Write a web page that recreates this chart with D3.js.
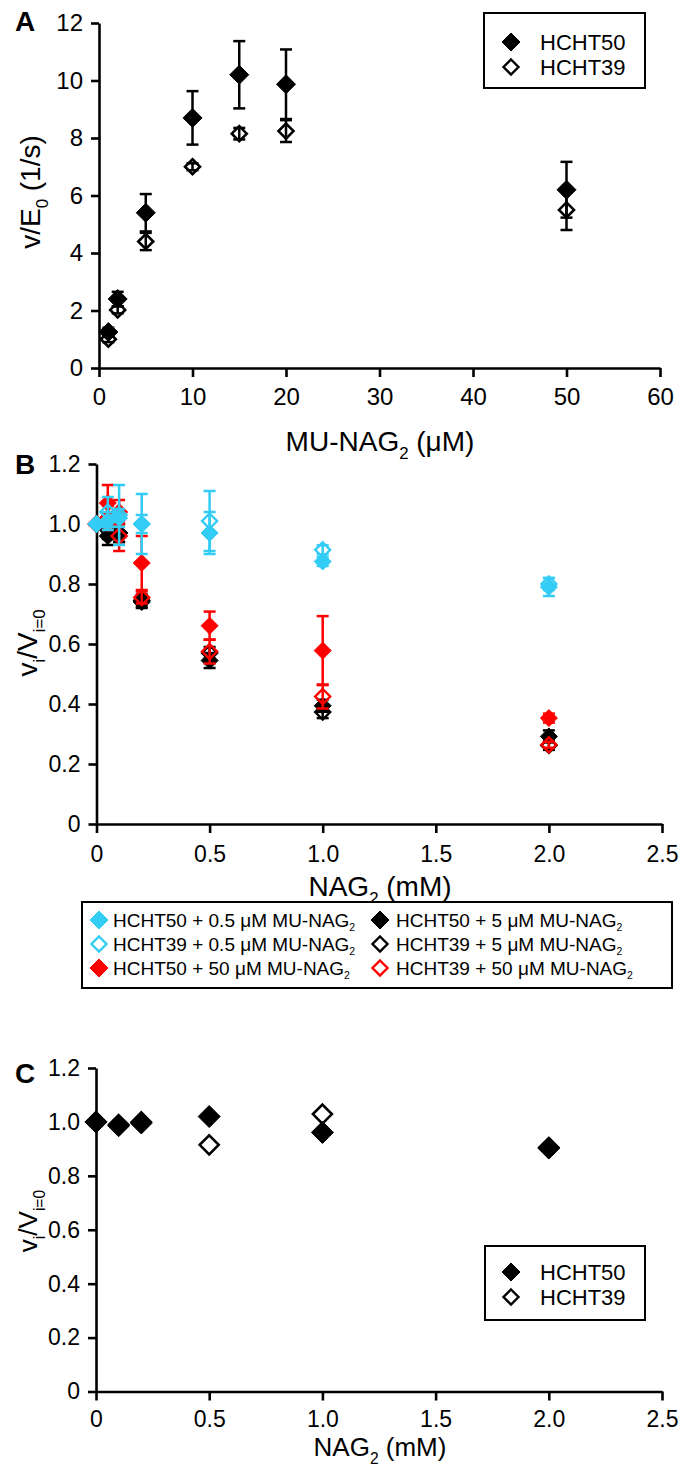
<!DOCTYPE html>
<html><head><meta charset="utf-8">
<script src="https://cdn.jsdelivr.net/npm/d3@7"></script>
<style>body{margin:0;background:#fff}</style>
</head><body>
<svg id="c" width="680" height="1467" xmlns="http://www.w3.org/2000/svg"></svg>
<script>
// ---------- Panel A data ----------
const aX = [1, 2, 5, 10, 15, 20, 50];
const aHCHT50 = [1.25, 2.4, 5.4, 8.7, 10.2, 9.87, 6.2];
const aHCHT50err = [0.15, 0.25, 0.65, 0.93, 1.17, 1.21, 0.97];
const aHCHT39 = [1.0, 2.02, 4.4, 7.0, 8.15, 8.24, 5.5];
const aHCHT39err = [0.1, 0.12, 0.3, 0.12, 0.2, 0.38, 0.7];
const aXTicks = [0, 10, 20, 30, 40, 50, 60];
const aYTicks = [0, 2, 4, 6, 8, 10, 12];

// ---------- Panel B data ----------
const bX = [0, 0.05, 0.1, 0.2, 0.5, 1.0, 2.0];
const b50_05 = [1.00, 1.01, 1.02, 1.00, 0.97, 0.875, 0.79];
const b50_05err = [0, 0.03, 0.03, 0.10, 0.07, 0.015, 0.03];
const b39_05 = [1.00, 1.04, 1.03, 1.00, 1.01, 0.914, 0.80];
const b39_05err = [0, 0.05, 0.10, 0.03, 0.10, 0.015, 0.02];
const b50_5 = [1.00, 0.96, 0.97, 0.74, 0.545, 0.394, 0.292];
const b50_5err = [0, 0.03, 0.03, 0.02, 0.025, 0.02, 0.02];
const b39_5 = [1.00, 0.98, 0.97, 0.745, 0.57, 0.373, 0.262];
const b39_5err = [0, 0.03, 0.03, 0.02, 0.02, 0.02, 0.015];
const b50_50 = [1.00, 1.07, 1.04, 0.87, 0.661, 0.578, 0.353];
const b50_50err = [0, 0.06, 0.04, 0.09, 0.047, 0.115, 0.015];
const b39_50 = [1.00, 1.02, 0.96, 0.755, 0.575, 0.425, 0.264];
const b39_50err = [0, 0.04, 0.05, 0.02, 0.04, 0.04, 0.01];
const bXTicks = [0, 0.5, 1.0, 1.5, 2.0, 2.5];
const bYTicks = [0, 0.2, 0.4, 0.6, 0.8, 1.0, 1.2];

// ---------- Panel C data ----------
const cX = [0, 0.1, 0.2, 0.5, 1.0, 2.0];
const cHCHT50 = [1.0, 0.986, 0.996, 1.02, 0.961, 0.903];
const cHCHT39 = [1.0, 0.99, 1.0, 0.915, 1.029, 0.905];
const cXTicks = [0, 0.5, 1.0, 1.5, 2.0, 2.5];
const cYTicks = [0, 0.2, 0.4, 0.6, 0.8, 1.0, 1.2];

const CYAN = "#33CCF5", RED = "#FF0000", BLACK = "#000000";
const FONT = '"Liberation Sans", Arial, Helvetica, sans-serif';
const svg = d3.select("#c");
const dia = s => `M0,${-s}L${s},0L0,${s}L${-s},0Z`;
const fmt1 = d => d === 0 ? "0" : d.toFixed(1);

function rich(sel, parts, size, subScale = 0.6, subShift = 0.3) {
  let shift = 0;
  parts.forEach(p => {
    const t = sel.append("tspan").text(p.t);
    if (p.sub) {
      const d = size * subShift;
      t.attr("font-size", size * subScale).attr("dy", d - shift);
      shift = d;
    } else if (shift) {
      t.attr("dy", -shift);
      shift = 0;
    }
  });
  return sel;
}

function axes(x, y, xTicks, yTicks, xFmt, yFmt, xPad, yPad, fs) {
  const ax = svg.append("g").attr("transform", `translate(0,${y.range()[0]})`)
    .call(d3.axisBottom(x).tickValues(xTicks).tickFormat(xFmt).tickSize(9).tickSizeOuter(0).tickPadding(xPad));
  const ay = svg.append("g").attr("transform", `translate(${x.range()[0]},0)`)
    .call(d3.axisLeft(y).tickValues(yTicks).tickFormat(yFmt).tickSize(8).tickSizeOuter(0).tickPadding(yPad));
  [ax, ay].forEach(a => {
    a.select(".domain").attr("stroke", "#000").attr("stroke-width", 2.6);
    a.selectAll(".tick line").attr("stroke", "#000").attr("stroke-width", 2.6);
    a.selectAll(".tick text").attr("font-size", fs).attr("font-family", FONT).attr("fill", "#000");
  });
}

function series(x, y, xs, vs, es, color, filled, size, sw) {
  const g = svg.append("g");
  const pts = xs.map((d, i) => ({x: d, v: vs[i], e: es ? es[i] : 0}));
  g.selectAll("path.m").data(pts).join("path").attr("class", "m")
    .attr("transform", d => `translate(${x(d.x)},${y(d.v)})`)
    .attr("d", dia(size))
    .attr("fill", filled ? color : "none")
    .attr("stroke", color).attr("stroke-width", filled ? 1 : sw);
  const eb = pts.filter(d => d.e > 0);
  const cap = 6;
  g.selectAll("line.v").data(eb).join("line").attr("class", "v")
    .attr("x1", d => x(d.x)).attr("x2", d => x(d.x))
    .attr("y1", d => y(d.v - d.e)).attr("y2", d => y(d.v + d.e))
    .attr("stroke", color).attr("stroke-width", 2.5);
  ["-", "+"].forEach(sg => {
    g.selectAll("line.c" + (sg === "-" ? "m" : "p")).data(eb).join("line")
      .attr("x1", d => x(d.x) - cap).attr("x2", d => x(d.x) + cap)
      .attr("y1", d => y(sg === "-" ? d.v - d.e : d.v + d.e))
      .attr("y2", d => y(sg === "-" ? d.v - d.e : d.v + d.e))
      .attr("stroke", color).attr("stroke-width", 2.5);
  });
}

function panelLetter(t, x, y) {
  svg.append("text").attr("x", x).attr("y", y).attr("font-family", FONT)
    .attr("font-size", 28).attr("font-weight", "bold").text(t);
}

function yLabel(cx, cy, parts, fs) {
  const t = svg.append("text").attr("transform", `translate(${cx},${cy}) rotate(-90)`)
    .attr("text-anchor", "middle").attr("font-family", FONT).attr("font-size", fs);
  rich(t, parts, fs);
}
function xLabel(cx, cy, parts, fs) {
  const t = svg.append("text").attr("x", cx).attr("y", cy)
    .attr("text-anchor", "middle").attr("font-family", FONT).attr("font-size", fs);
  rich(t, parts, fs);
}

function legendBox(x0, y0, w, h, items, fs, subScale, subShift) {
  const g = svg.append("g");
  g.append("rect").attr("x", x0).attr("y", y0).attr("width", w).attr("height", h)
    .attr("fill", "#fff").attr("stroke", "#000").attr("stroke-width", 2);
  items.forEach(it => {
    g.append("path").attr("transform", `translate(${it.mx},${it.my})`)
      .attr("d", dia(it.filled ? 9 : 7.5))
      .attr("fill", it.filled ? it.color : "none").attr("stroke", it.color)
      .attr("stroke-width", it.filled ? 1 : 2.4);
    const t = g.append("text").attr("x", it.tx).attr("y", it.my + fs * 0.36)
      .attr("font-family", FONT).attr("font-size", fs);
    rich(t, it.parts, fs, subScale, subShift);
  });
}

// ================= Panel A =================
const xA = d3.scaleLinear().domain([0, 60]).range([99, 660]);
const yA = d3.scaleLinear().domain([0, 12]).range([368, 23]);
axes(xA, yA, aXTicks, aYTicks, d3.format("d"), d3.format("d"), 11, 8, 24);
series(xA, yA, aX, aHCHT50, aHCHT50err, BLACK, true, 9.5, 2.5);
series(xA, yA, aX, aHCHT39, aHCHT39err, BLACK, false, 7.5, 2.6);
panelLetter("A", 15, 31);
yLabel(40, 192, [{t: "v/E"}, {t: "0", sub: true}, {t: " (1/s)"}], 28);
xLabel(380, 451, [{t: "MU-NAG"}, {t: "2", sub: true}, {t: " (\u03BCM)"}], 28);
legendBox(484, 13, 161, 75, [
  {mx: 511, my: 42, tx: 540, color: BLACK, filled: true, parts: [{t: "HCHT50"}]},
  {mx: 511, my: 67, tx: 540, color: BLACK, filled: false, parts: [{t: "HCHT39"}]}
], 22);

// ================= Panel B =================
const xB = d3.scaleLinear().domain([0, 2.5]).range([96.5, 662]);
const yB = d3.scaleLinear().domain([0, 1.2]).range([824, 464]);
axes(xB, yB, bXTicks, bYTicks, fmt1, fmt1, 13, 8, 23);
series(xB, yB, bX, b50_5, b50_5err, BLACK, true, 8.5, 2.4);
series(xB, yB, bX, b39_5, b39_5err, BLACK, false, 7.5, 2.4);
series(xB, yB, bX, b50_50, b50_50err, RED, true, 8.5, 2.4);
series(xB, yB, bX, b39_50, b39_50err, RED, false, 7.5, 2.4);
series(xB, yB, bX, b50_05, b50_05err, CYAN, true, 8.5, 2.4);
series(xB, yB, bX, b39_05, b39_05err, CYAN, false, 7.5, 2.4);
panelLetter("B", 15, 474);
yLabel(37, 643, [{t: "v"}, {t: "i", sub: true}, {t: "/V"}, {t: "i=0", sub: true}], 28);
xLabel(380, 896, [{t: "NAG"}, {t: "2", sub: true}, {t: " (mM)"}], 28);
const mu = " \u03BCM MU-NAG";
legendBox(82, 902, 590, 86, [
  {mx: 99, my: 920, tx: 113, color: CYAN, filled: true, parts: [{t: "HCHT50 + 0.5" + mu}, {t: "2", sub: true}]},
  {mx: 99, my: 944, tx: 113, color: CYAN, filled: false, parts: [{t: "HCHT39 + 0.5" + mu}, {t: "2", sub: true}]},
  {mx: 99, my: 968, tx: 113, color: RED, filled: true, parts: [{t: "HCHT50 + 50" + mu}, {t: "2", sub: true}]},
  {mx: 380, my: 920, tx: 396, color: BLACK, filled: true, parts: [{t: "HCHT50 + 5" + mu}, {t: "2", sub: true}]},
  {mx: 380, my: 944, tx: 396, color: BLACK, filled: false, parts: [{t: "HCHT39 + 5" + mu}, {t: "2", sub: true}]},
  {mx: 380, my: 968, tx: 396, color: RED, filled: false, parts: [{t: "HCHT39 + 50" + mu}, {t: "2", sub: true}]}
], 19, 0.55, 0.22);

// ================= Panel C =================
const xC = d3.scaleLinear().domain([0, 2.5]).range([96, 662]);
const yC = d3.scaleLinear().domain([0, 1.2]).range([1391.5, 1068]);
axes(xC, yC, cXTicks, cYTicks, fmt1, fmt1, 10, 8, 23);
series(xC, yC, cX, cHCHT39, null, BLACK, false, 9.5, 2.6);
series(xC, yC, cX, cHCHT50, null, BLACK, true, 11, 2.5);
panelLetter("C", 15, 1083);
yLabel(37, 1221, [{t: "v"}, {t: "i", sub: true}, {t: "/V"}, {t: "i=0", sub: true}], 26);
xLabel(380, 1456, [{t: "NAG"}, {t: "2", sub: true}, {t: " (mM)"}], 26);
legendBox(485, 1246, 160, 74, [
  {mx: 511, my: 1272, tx: 540, color: BLACK, filled: true, parts: [{t: "HCHT50"}]},
  {mx: 511, my: 1297, tx: 540, color: BLACK, filled: false, parts: [{t: "HCHT39"}]}
], 22);
</script>
</body></html>
